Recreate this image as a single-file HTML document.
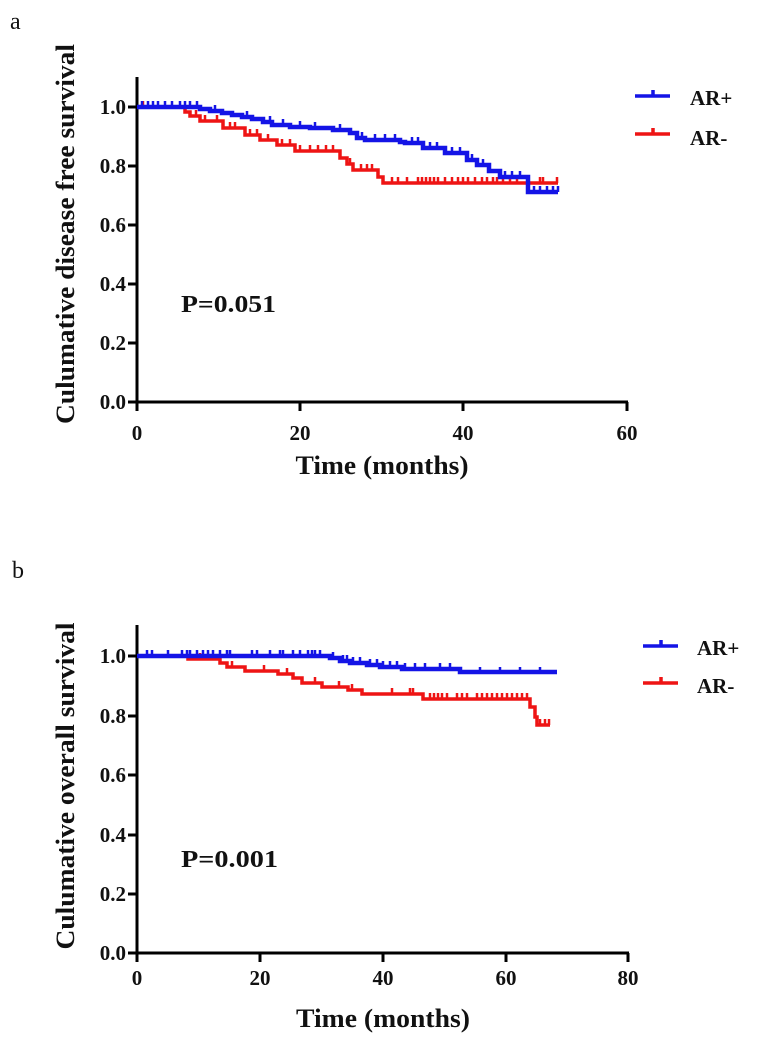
<!DOCTYPE html>
<html><head><meta charset="utf-8"><style>
html,body{margin:0;padding:0;background:#fff;}
svg{display:block;}
text{font-family:"Liberation Serif","Times New Roman",serif;fill:#111;}
.b{font-weight:bold;}
</style></head><body>
<svg width="771" height="1038" viewBox="0 0 771 1038" xmlns="http://www.w3.org/2000/svg">
<!-- Panel a -->
<text x="10" y="29" font-size="24">a</text>
<text class="b" transform="translate(74,234) rotate(-90)" text-anchor="middle" font-size="26" textLength="380" lengthAdjust="spacingAndGlyphs">Culumative disease free survival</text>
<g stroke="#000" stroke-width="3" fill="none">
<path d="M137,77 V403 M136,402 H628"/>
<path d="M128,107 H137 M128,166 H137 M128,225 H137 M128,284 H137 M128,343 H137 M128,402 H137"/>
<path d="M137,402 V411 M300,402 V411 M463,402 V411 M627,402 V411"/>
</g>
<g class="b" font-size="21" text-anchor="end">
<text x="126" y="114">1.0</text><text x="126" y="173">0.8</text><text x="126" y="232">0.6</text>
<text x="126" y="291">0.4</text><text x="126" y="350">0.2</text><text x="126" y="409">0.0</text>
</g>
<g class="b" font-size="21" text-anchor="middle">
<text x="137" y="440">0</text><text x="300" y="440">20</text><text x="463" y="440">40</text><text x="627" y="440">60</text>
</g>
<text class="b" x="382" y="474" font-size="26" text-anchor="middle" textLength="173" lengthAdjust="spacingAndGlyphs">Time (months)</text>
<text class="b" x="181" y="312" font-size="24" textLength="95" lengthAdjust="spacingAndGlyphs">P=0.051</text>
<!-- red a -->
<g stroke="#ee1414" fill="none" stroke-width="3.5">
<path d="M137,107 H185 V112 H190 V116 H200 V121 H223 V128 H245 V135 H260 V140 H277 V145 H295 V151 H340 V158 H347 V164 H353 V170 H378 V177 H383 V183 H558"/>
</g>
<g stroke="#ee1414" fill="none" stroke-width="2.5">
<path d="M143,107v-6 M196,116v-6 M205,121v-6 M217,121v-6 M230,128v-6 M235,128v-6 M250,135v-6 M257,135v-6 M268,140v-6 M282,145v-6 M290,145v-6 M300,151v-6 M310,151v-6 M318,151v-6 M326,151v-6 M333,151v-6 M350,164v-6 M361,170v-6 M367,170v-6 M372,170v-6 M392,183v-6 M398,183v-6 M407,183v-6 M418,183v-6 M422,183v-6 M426,183v-6 M430,183v-6 M434,183v-6 M438,183v-6 M445,183v-6 M452,183v-6 M458,183v-6 M463,183v-6 M468,183v-6 M475,183v-6 M482,183v-6 M487,183v-6 M493,183v-6 M497,183v-6 M503,183v-6 M510,183v-6 M517,183v-6 M540,183v-6 M543,183v-6 M557,183v-6"/>
</g>
<!-- blue a -->
<g stroke="#1414e6" fill="none" stroke-width="4.5">
<path d="M137,107 H200 V109 H210 V111 H222 V113 H232 V115 H242 V117 H252 V119 H263 V122 H272 V125 H290 V127 H310 V128 H333 V130 H350 V133 H357 V138 H365 V140 H400 V142 H405 V143 H423 V148 H445 V153 H467 V160 H477 V165 H489 V171 H500 V177 H528 V192 H558"/>
</g>
<g stroke="#1414e6" fill="none" stroke-width="2.5">
<path d="M142,107v-6 M148,107v-6 M153,107v-6 M158,107v-6 M165,107v-6 M172,107v-6 M180,107v-6 M185,107v-6 M190,107v-6 M197,107v-6 M215,111v-6 M247,117v-6 M270,122v-6 M283,125v-6 M300,127v-6 M315,128v-6 M340,130v-6 M362,138v-6 M375,140v-6 M385,140v-6 M395,140v-6 M412,143v-6 M418,143v-6 M430,148v-6 M437,148v-6 M452,153v-6 M460,153v-6 M472,160v-6 M483,165v-6 M505,177v-6 M512,177v-6 M520,177v-6 M534,192v-6 M540,192v-6 M547,192v-6 M553,192v-6 M558,192v-6"/>
</g>
<!-- legend a -->
<g stroke-width="3.5" fill="none">
<path d="M635,96 H670 M653,96 v-6" stroke="#1414e6"/>
<path d="M635,134 H670 M653,134 v-6" stroke="#ee1414"/>
</g>
<text class="b" x="690" y="105" font-size="21">AR+</text>
<text class="b" x="690" y="145" font-size="21">AR-</text>

<!-- Panel b -->
<text x="12" y="578" font-size="24">b</text>
<text class="b" transform="translate(74,786) rotate(-90)" text-anchor="middle" font-size="26" textLength="327" lengthAdjust="spacingAndGlyphs">Culumative overall survival</text>
<g stroke="#000" stroke-width="3" fill="none">
<path d="M137,625 V954 M136,953 H629"/>
<path d="M128,656 H137 M128,716 H137 M128,775 H137 M128,835 H137 M128,894 H137 M128,953 H137"/>
<path d="M137,953 V962 M260,953 V962 M383,953 V962 M506,953 V962 M628,953 V962"/>
</g>
<g class="b" font-size="21" text-anchor="end">
<text x="126" y="663">1.0</text><text x="126" y="723">0.8</text><text x="126" y="782">0.6</text>
<text x="126" y="842">0.4</text><text x="126" y="901">0.2</text><text x="126" y="960">0.0</text>
</g>
<g class="b" font-size="21" text-anchor="middle">
<text x="137" y="985">0</text><text x="260" y="985">20</text><text x="383" y="985">40</text><text x="506" y="985">60</text><text x="628" y="985">80</text>
</g>
<text class="b" x="383" y="1027" font-size="26" text-anchor="middle" textLength="174" lengthAdjust="spacingAndGlyphs">Time (months)</text>
<text class="b" x="181" y="867" font-size="24" textLength="97" lengthAdjust="spacingAndGlyphs">P=0.001</text>
<!-- red b -->
<g stroke="#ee1414" fill="none" stroke-width="3.5">
<path d="M137,656 H188 V659 H220 V663 H227 V667 H245 V671 H278 V674 H293 V678 H302 V683 H322 V687 H348 V690 H362 V694 H423 V699 H530 V707 H535 V717 H537 V725 H550"/>
</g>
<g stroke="#ee1414" fill="none" stroke-width="2.5">
<path d="M200,659v-6 M232,667v-6 M264,671v-6 M287,674v-6 M315,683v-6 M339,687v-6 M352,690v-6 M392,694v-6 M410,694v-6 M413,694v-6 M430,699v-6 M434,699v-6 M438,699v-6 M442,699v-6 M447,699v-6 M457,699v-6 M462,699v-6 M467,699v-6 M477,699v-6 M482,699v-6 M487,699v-6 M492,699v-6 M497,699v-6 M502,699v-6 M507,699v-6 M512,699v-6 M517,699v-6 M522,699v-6 M527,699v-6 M540,725v-6 M545,725v-6 M549,725v-6"/>
</g>
<!-- blue b -->
<g stroke="#1414e6" fill="none" stroke-width="4.5">
<path d="M137,656 H330 V658 H340 V661 H350 V663 H367 V665 H380 V667 H402 V669 H460 V672 H557"/>
</g>
<g stroke="#1414e6" fill="none" stroke-width="2.5">
<path d="M147,656v-6 M152,656v-6 M168,656v-6 M182,656v-6 M187,656v-6 M190,656v-6 M197,656v-6 M203,656v-6 M208,656v-6 M213,656v-6 M220,656v-6 M227,656v-6 M230,656v-6 M252,656v-6 M257,656v-6 M270,656v-6 M280,656v-6 M283,656v-6 M293,656v-6 M300,656v-6 M308,656v-6 M312,656v-6 M315,656v-6 M320,656v-6 M333,658v-6 M343,661v-6 M347,661v-6 M353,663v-6 M360,663v-6 M370,665v-6 M377,665v-6 M383,667v-6 M390,667v-6 M397,667v-6 M405,669v-6 M415,669v-6 M425,669v-6 M440,669v-6 M450,669v-6 M480,672v-5 M500,672v-5 M520,672v-5 M540,672v-5"/>
</g>
<!-- legend b -->
<g stroke-width="3.5" fill="none">
<path d="M643,646 H678 M661,646 v-6" stroke="#1414e6"/>
<path d="M643,683 H678 M661,683 v-6" stroke="#ee1414"/>
</g>
<text class="b" x="697" y="655" font-size="21">AR+</text>
<text class="b" x="697" y="693" font-size="21">AR-</text>
</svg>
</body></html>
